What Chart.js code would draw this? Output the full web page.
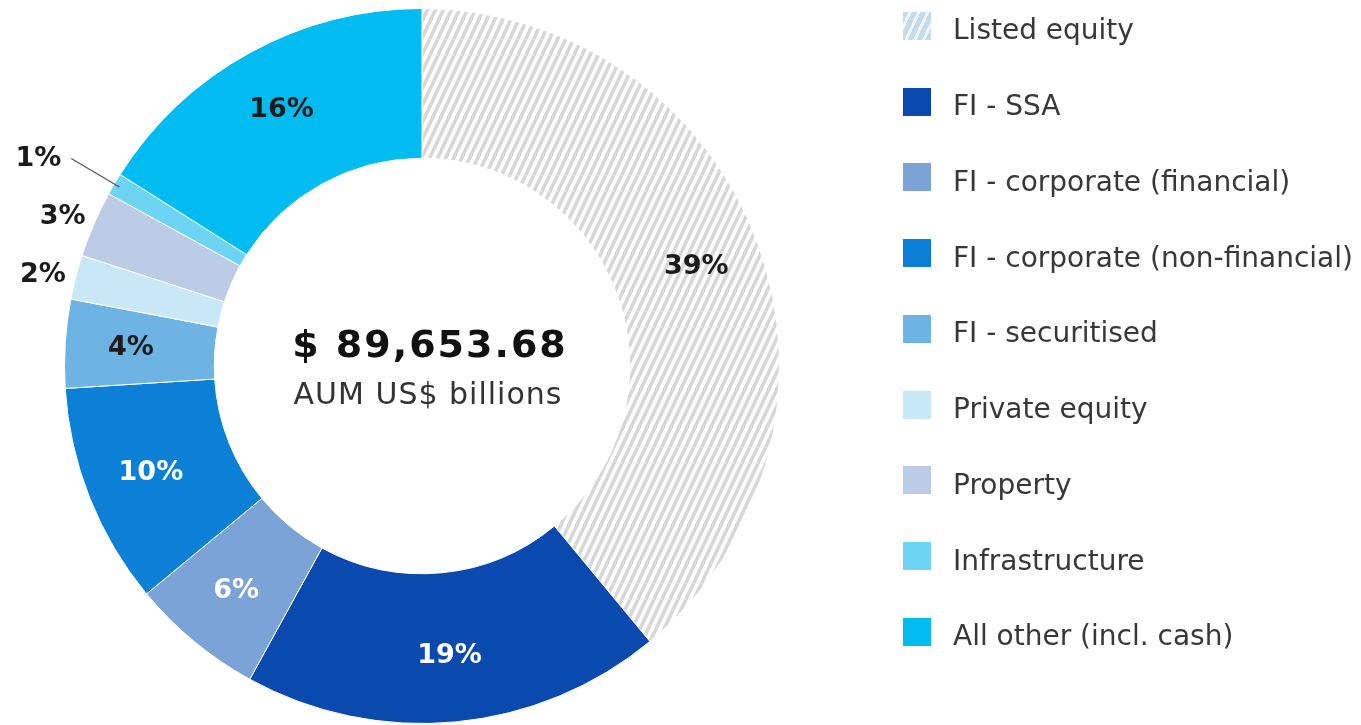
<!DOCTYPE html>
<html>
<head>
<meta charset="utf-8">
<title>AUM by asset class</title>
<script src="https://cdn.jsdelivr.net/npm/chart.js@4.4.1/dist/chart.umd.min.js"></script>
<style>
  html, body { margin: 0; padding: 0; background: #fff; }
  #wrap { position: relative; width: 1361px; height: 725px; overflow: hidden; }
  #legend {
    position: absolute; left: 903px; top: -12px; margin: 0; padding: 0; list-style: none;
    font-family: "DejaVu Sans", sans-serif; font-size: 28px; color: #383838;
  }
  #legend li { display: flex; align-items: center; height: 75.75px; white-space: nowrap; }
  #legend .sw { width: 28px; height: 28px; margin-right: 22px; flex: none; }
  #legend .tx { position: relative; top: 4px; }
</style>
</head>
<body>
<div id="wrap">
  <canvas id="donut" width="1361" height="725"></canvas>
  <ul id="legend"></ul>
</div>
<script>
// données du graphique
const categories = [
  'Listed equity',
  'FI - SSA',
  'FI - corporate (financial)',
  'FI - corporate (non-financial)',
  'FI - securitised',
  'Private equity',
  'Property',
  'Infrastructure',
  'All other (incl. cash)'
];
const shares = [39, 19, 6, 10, 4, 2, 3, 1, 16];
const totalAum = '$ 89,653.68';
const totalCaption = 'AUM US$ billions';

// couleurs (null = motif hachuré)
const sliceColors = [null, '#0a4aae', '#7ba3d6', '#0b80d6', '#6db3e3', '#c8e8f8', '#bccbe6', '#6dd4f3', '#00bcf1'];
const labelInk = ['#1b1b1b', '#ffffff', '#ffffff', '#ffffff', '#1b1b1b', '#1b1b1b', '#1b1b1b', '#1b1b1b', '#1b1b1b'];

// motif hachuré pour "Listed equity"
function makeHatch() {
  const w = 8, h = 17;
  const c = document.createElement('canvas');
  c.width = w; c.height = h;
  const g = c.getContext('2d');
  g.fillStyle = '#ffffff';
  g.fillRect(0, 0, w, h);
  g.strokeStyle = '#d8d8d8';
  g.lineWidth = 3.6;
  // lignes prolongées hors de la tuile pour éviter les raccords visibles
  for (let k = -2; k <= 2; k++) {
    g.beginPath();
    g.moveTo(k * w - w, 2 * h);
    g.lineTo(k * w + 2 * w, -h);
    g.stroke();
  }
  return document.getElementById('donut').getContext('2d').createPattern(c, 'repeat');
}
const hatch = makeHatch();

// étiquettes en pourcentage + texte central
const sliceLabels = {
  id: 'sliceLabels',
  afterDatasetsDraw(chart) {
    const ctx = chart.ctx;
    const meta = chart.getDatasetMeta(0);
    ctx.save();
    ctx.font = 'bold 27px "DejaVu Sans"';
    ctx.textBaseline = 'middle';
    meta.data.forEach((arc, i) => {
      const p = arc.getProps(['x', 'y', 'startAngle', 'endAngle', 'innerRadius', 'outerRadius'], true);
      const mid = (p.startAngle + p.endAngle) / 2;
      const cos = Math.cos(mid), sin = Math.sin(mid);
      const txt = shares[i] + '%';
      if (shares[i] >= 4) {
        const r = p.innerRadius + 0.56 * (p.outerRadius - p.innerRadius);
        ctx.fillStyle = labelInk[i];
        ctx.textAlign = 'center';
        ctx.fillText(txt, p.x + r * cos, p.y + r * sin);
      } else if (shares[i] >= 2) {
        const r = p.outerRadius + 34;
        ctx.fillStyle = labelInk[i];
        ctx.textAlign = 'center';
        ctx.fillText(txt, p.x + r * cos, p.y + r * sin + 6);
      } else {
        // petite tranche : trait de rappel
        const r0 = p.outerRadius - 6, r1 = p.outerRadius + 50;
        const ex = p.x + r1 * cos, ey = p.y + r1 * sin;
        ctx.strokeStyle = '#555555';
        ctx.lineWidth = 1.2;
        ctx.beginPath();
        ctx.moveTo(p.x + r0 * cos, p.y + r0 * sin);
        ctx.lineTo(ex, ey);
        ctx.stroke();
        ctx.fillStyle = labelInk[i];
        ctx.textAlign = 'right';
        ctx.fillText(txt, ex - 10, ey);
      }
    });

    const c = meta.data[0];
    ctx.textAlign = 'center';
    ctx.fillStyle = '#111111';
    ctx.font = 'bold 38px "DejaVu Sans"';
    ctx.letterSpacing = '2px';
    ctx.fillText(totalAum, c.x + 8, c.y - 19);
    ctx.fillStyle = '#333333';
    ctx.font = '30px "DejaVu Sans"';
    ctx.letterSpacing = '1px';
    ctx.fillText(totalCaption, c.x + 6, c.y + 30);
    ctx.restore();
  }
};

new Chart(document.getElementById('donut'), {
  type: 'doughnut',
  data: {
    labels: categories,
    datasets: [{
      data: shares,
      backgroundColor: sliceColors.map(c => c || hatch),
      borderColor: '#ffffff',
      borderWidth: 1,
      hoverOffset: 0
    }]
  },
  options: {
    responsive: false,
    animation: false,
    events: [],
    cutout: '58.1%',
    layout: { padding: { left: 64, top: 8, right: 581, bottom: 1 } },
    plugins: {
      legend: { display: false },
      tooltip: { enabled: false }
    }
  },
  plugins: [sliceLabels]
});

// légende HTML
const legendEl = document.getElementById('legend');
categories.forEach((name, i) => {
  const li = document.createElement('li');
  const sw = document.createElement('span');
  sw.className = 'sw';
  if (sliceColors[i]) {
    sw.style.background = sliceColors[i];
  } else {
    sw.style.background = 'repeating-linear-gradient(115deg, #c4dbee 0 5px, #eef5fb 5px 8px)';
  }
  const tx = document.createElement('span');
  tx.className = 'tx';
  tx.textContent = name;
  li.appendChild(sw);
  li.appendChild(tx);
  legendEl.appendChild(li);
});
</script>
</body>
</html>
